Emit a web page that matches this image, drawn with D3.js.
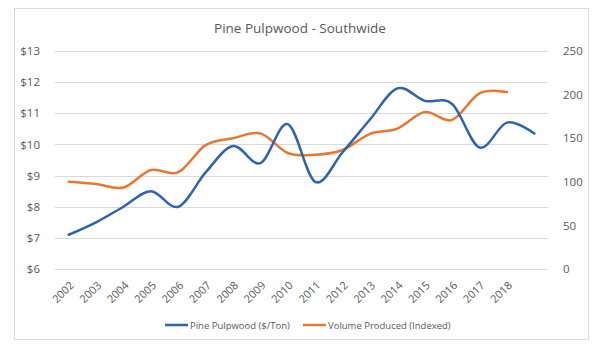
<!DOCTYPE html>
<html>
<head>
<meta charset="utf-8">
<script src="https://cdn.jsdelivr.net/npm/d3@7"></script>
<style>
  body { margin: 0; background: #fff; }
  text { font-family: "Open Sans", "Liberation Sans", sans-serif; fill: #595959; }
</style>
</head>
<body>
<div class="chart"></div>
<script>
// dati
const years = ["2002","2003","2004","2005","2006","2007","2008","2009","2010",
               "2011","2012","2013","2014","2015","2016","2017","2018",""];
const pulpwood = [7.1, 7.5, 8.0, 8.5, 8.0, 9.1, 9.95, 9.4, 10.65,
                  8.8, 9.75, 10.8, 11.8, 11.4, 11.3, 9.9, 10.7, 10.35];
const volume = [100, 97.5, 93.5, 113.5, 111, 142, 150, 155.5, 133,
                131, 136.5, 155, 161, 180, 171, 201.5, 203, null];
const leftTicks = [6, 7, 8, 9, 10, 11, 12, 13];
const rightTicks = [0, 50, 100, 150, 200, 250];

const width = 600, height = 351;
const plot = { left: 55, right: 548, top: 51, bottom: 269 };

const svg = d3.select('.chart').append('svg')
    .attr('width', width)
    .attr('height', height);

// bordo del grafico
svg.append('rect')
    .attr('x', 14.5).attr('y', 8.5)
    .attr('width', 574).attr('height', 331)
    .attr('fill', '#fff')
    .attr('stroke', '#d9d9d9');

svg.append('text')
    .attr('x', 300).attr('y', 33)
    .attr('text-anchor', 'middle')
    .style('font-size', '13.5px')
    .text('Pine Pulpwood - Southwide');

const x = d3.scaleBand()
    .domain(years.map((d, i) => i))
    .range([plot.left, plot.right]);

const yLeft = d3.scaleLinear().domain([6, 13]).range([plot.bottom, plot.top]);
const yRight = d3.scaleLinear().domain([0, 250]).range([plot.bottom, plot.top]);

// griglia
svg.append('g').selectAll('line')
    .data(leftTicks)
    .enter().append('line')
    .attr('x1', plot.left).attr('x2', plot.right)
    .attr('y1', d => Math.round(yLeft(d)) + 0.5)
    .attr('y2', d => Math.round(yLeft(d)) + 0.5)
    .attr('stroke', '#d9d9d9')
    .attr('stroke-width', 1.2);

const axisLeft = svg.append('g')
    .attr('transform', `translate(${plot.left - 12},0)`)
    .call(d3.axisLeft(yLeft).tickValues(leftTicks).tickSize(0).tickFormat(d => '$' + d));
axisLeft.select('.domain').remove();
axisLeft.selectAll('text').style('font-size', '11.5px').attr('fill', '#595959');

const axisRight = svg.append('g')
    .attr('transform', `translate(${plot.right + 12},0)`)
    .call(d3.axisRight(yRight).tickValues(rightTicks).tickSize(0));
axisRight.select('.domain').remove();
axisRight.selectAll('text').style('font-size', '11.5px').attr('fill', '#595959');

// etichette anni ruotate
svg.append('g').selectAll('text')
    .data(years)
    .enter().append('text')
    .attr('text-anchor', 'end')
    .attr('transform', (d, i) => `translate(${x(i) + x.bandwidth() / 2 + 6},${plot.bottom + 17}) rotate(-45)`)
    .style('font-size', '11px')
    .text(d => d);

const xc = i => x(i) + x.bandwidth() / 2;

const lineLeft = d3.line()
    .x((d, i) => xc(i))
    .y(d => yLeft(d))
    .curve(d3.curveCardinal.tension(0));

const lineRight = d3.line()
    .defined(d => d != null)
    .x((d, i) => xc(i))
    .y(d => yRight(d))
    .curve(d3.curveCardinal.tension(0));

svg.append('path')
    .attr('d', lineRight(volume))
    .attr('fill', 'none')
    .attr('stroke', '#e8772f')
    .attr('stroke-width', 2.5)
    .attr('stroke-linecap', 'round');

svg.append('path')
    .attr('d', lineLeft(pulpwood))
    .attr('fill', 'none')
    .attr('stroke', '#2e63b0')
    .attr('stroke-width', 2.5)
    .attr('stroke-linecap', 'round');

// legenda
const legend = [
  { label: 'Pine Pulpwood ($/Ton)', color: '#2e63b0', x: 165 },
  { label: 'Volume Produced (Indexed)', color: '#e8772f', x: 303 }
];
const lg = svg.append('g').selectAll('g')
    .data(legend)
    .enter().append('g')
    .attr('transform', d => `translate(${d.x},325)`);
lg.append('line')
    .attr('x1', 0).attr('x2', 23)
    .attr('stroke', d => d.color)
    .attr('stroke-width', 2.5);
lg.append('text')
    .attr('x', 25).attr('y', 3.5)
    .style('font-size', '9.5px')
    .text(d => d.label);
</script>
</body>
</html>
